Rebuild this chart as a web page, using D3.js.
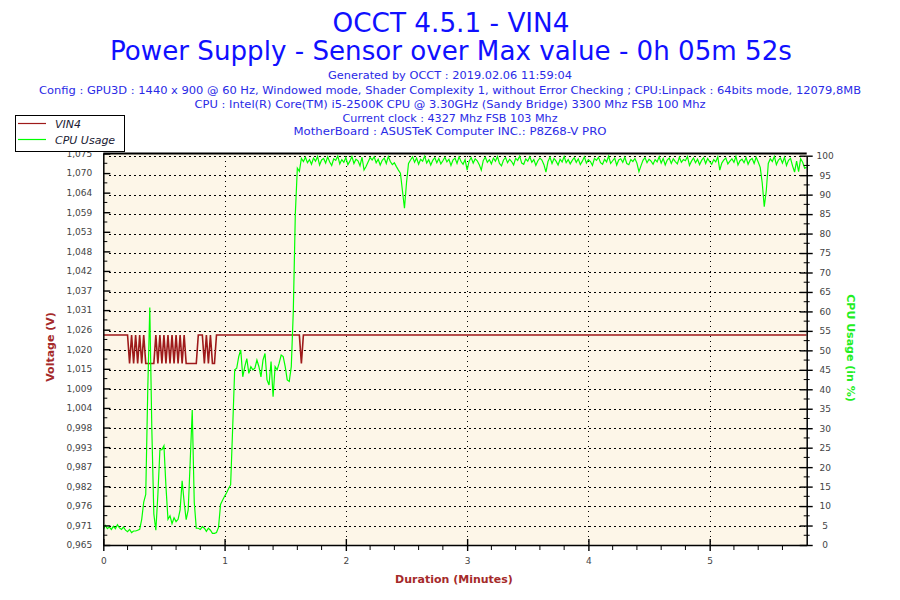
<!DOCTYPE html>
<html><head><meta charset="utf-8">
<script src="https://cdn.jsdelivr.net/npm/d3@7/dist/d3.min.js"></script>
<style>body{margin:0;background:#fff}</style>
</head><body>
<svg id="chart" width="900" height="600"></svg>
<script>
// ---------- text ----------
const titleLines = ["OCCT 4.5.1 - VIN4", "Power Supply - Sensor over Max value - 0h 05m 52s"];
const infoLines = [
  "Generated by OCCT : 2019.02.06 11:59:04",
  "Config : GPU3D : 1440 x 900 @ 60 Hz, Windowed mode, Shader Complexity 1, without Error Checking ; CPU:Linpack : 64bits mode, 12079,8MB",
  "CPU : Intel(R) Core(TM) i5-2500K CPU @ 3.30GHz (Sandy Bridge) 3300 Mhz FSB 100 Mhz",
  "Current clock : 4327 Mhz FSB 103 Mhz",
  "MotherBoard : ASUSTeK Computer INC.: P8Z68-V PRO"
];
const legendLabels = ["VIN4", "CPU Usage"];
const axisTitles = {left: "Voltage (V)", right: "CPU Usage (in %)", bottom: "Duration (Minutes)"};

// ---------- ticks ----------
const xTicks = [0, 1, 2, 3, 4, 5];
const xDomain = [0, 5.8];
const voltDomain = [0.965, 1.075];
const voltTickLabels = ["0,965","0,971","0,976","0,982","0,987","0,993","0,998","1,004","1,009","1,015",
  "1,020","1,026","1,031","1,037","1,042","1,048","1,053","1,059","1,064","1,070","1,075"];
const cpuTicks = [0,5,10,15,20,25,30,35,40,45,50,55,60,65,70,75,80,85,90,95,100];

// ---------- series (one sample per second) ----------
const sampleSeconds = 1;
const vin4 = [
1.024,1.024,1.024,1.024,1.024,1.024,1.024,1.024,1.024,1.024,
1.024,1.024,1.024,1.016,1.024,1.016,1.024,1.016,1.024,1.016,
1.024,1.016,1.016,1.016,1.016,1.016,1.024,1.016,1.024,1.016,
1.024,1.016,1.024,1.016,1.024,1.016,1.024,1.016,1.024,1.016,
1.024,1.016,1.016,1.016,1.016,1.016,1.016,1.024,1.024,1.024,
1.016,1.024,1.016,1.024,1.016,1.016,1.024,1.024,1.024,1.024,
1.024,1.024,1.024,1.024,1.024,1.024,1.024,1.024,1.024,1.024,
1.024,1.024,1.024,1.024,1.024,1.024,1.024,1.024,1.024,1.024,
1.024,1.024,1.024,1.024,1.024,1.024,1.024,1.024,1.024,1.024,
1.024,1.024,1.024,1.024,1.024,1.024,1.024,1.024,1.016,1.024,
1.024,1.024,1.024,1.024,1.024,1.024,1.024,1.024,1.024,1.024,
1.024,1.024,1.024,1.024,1.024,1.024,1.024,1.024,1.024,1.024,
1.024,1.024,1.024,1.024,1.024,1.024,1.024,1.024,1.024,1.024,
1.024,1.024,1.024,1.024,1.024,1.024,1.024,1.024,1.024,1.024,
1.024,1.024,1.024,1.024,1.024,1.024,1.024,1.024,1.024,1.024,
1.024,1.024,1.024,1.024,1.024,1.024,1.024,1.024,1.024,1.024,
1.024,1.024,1.024,1.024,1.024,1.024,1.024,1.024,1.024,1.024,
1.024,1.024,1.024,1.024,1.024,1.024,1.024,1.024,1.024,1.024,
1.024,1.024,1.024,1.024,1.024,1.024,1.024,1.024,1.024,1.024,
1.024,1.024,1.024,1.024,1.024,1.024,1.024,1.024,1.024,1.024,
1.024,1.024,1.024,1.024,1.024,1.024,1.024,1.024,1.024,1.024,
1.024,1.024,1.024,1.024,1.024,1.024,1.024,1.024,1.024,1.024,
1.024,1.024,1.024,1.024,1.024,1.024,1.024,1.024,1.024,1.024,
1.024,1.024,1.024,1.024,1.024,1.024,1.024,1.024,1.024,1.024,
1.024,1.024,1.024,1.024,1.024,1.024,1.024,1.024,1.024,1.024,
1.024,1.024,1.024,1.024,1.024,1.024,1.024,1.024,1.024,1.024,
1.024,1.024,1.024,1.024,1.024,1.024,1.024,1.024,1.024,1.024,
1.024,1.024,1.024,1.024,1.024,1.024,1.024,1.024,1.024,1.024,
1.024,1.024,1.024,1.024,1.024,1.024,1.024,1.024,1.024,1.024,
1.024,1.024,1.024,1.024,1.024,1.024,1.024,1.024,1.024,1.024,
1.024,1.024,1.024,1.024,1.024,1.024,1.024,1.024,1.024,1.024,
1.024,1.024,1.024,1.024,1.024,1.024,1.024,1.024,1.024,1.024,
1.024,1.024,1.024,1.024,1.024,1.024,1.024,1.024,1.024,1.024,
1.024,1.024,1.024,1.024,1.024,1.024,1.024,1.024,1.024,1.024,
1.024,1.024,1.024,1.024,1.024,1.024,1.024,1.024,1.024
];
const cpuUsage = [
4.0,5.0,4.2,4.6,4.0,4.8,4.2,5.2,4.4,4.0,
4.6,3.8,3.4,4.0,3.2,3.6,3.6,3.8,4.0,6.6,
11.0,13.0,40.0,61.0,30.0,8.0,3.8,12.9,24.4,24.5,
25.5,15.0,6.6,7.5,5.5,7.0,6.0,6.6,9.0,16.5,
11.0,6.5,9.0,21.5,34.7,11.0,4.3,4.3,4.0,4.7,
4.3,3.5,4.3,3.8,3.0,3.0,3.2,4.5,10.4,11.5,
12.5,13.4,14.5,15.5,30.0,45.0,45.4,48.4,50.1,43.2,
45.8,47.9,44.1,45.8,45.0,45.4,47.5,45.8,43.2,47.5,
49.2,42.4,41.1,47.1,38.1,45.8,45.0,46.7,48.8,48.4,
45.8,42.4,42.0,45.8,60.0,85.0,96.8,96.0,99.3,
98.5,99.6,98.2,99.0,97.8,99.4,98.6,99.8,97.6,98.9,
99.3,98.1,99.7,98.4,97.5,99.2,98.8,99.9,97.9,99.0,
98.3,99.5,97.7,98.6,99.8,98.0,99.1,98.7,97.4,99.6,
96.3,97.2,98.4,99.5,98.9,99.7,98.2,99.1,97.6,98.8,
99.4,98.0,99.8,98.5,97.7,98.2,
97.2,96.3,95.5,91.0,86.5,93.0,98.0,
98.9,99.7,98.3,99.4,97.8,99.1,98.6,99.9,98.1,99.0,
97.6,98.8,99.5,98.2,99.3,97.9,98.7,99.6,98.4,99.1,
97.5,98.9,99.4,98.0,99.7,98.5,97.8,99.0,96.3,98.6,
99.5,98.1,99.2,98.7,97.7,96.3,98.8,99.6,98.3,99.0,
97.9,99.4,98.6,99.8,98.0,97.4,98.9,99.5,98.2,99.1,
98.5,97.6,99.3,98.8,99.9,98.1,97.8,99.2,98.6,99.7,
98.3,99.0,97.5,98.7,99.4,98.9,97.7,95.8,98.5,99.6,
98.0,99.3,98.6,97.6,99.1,98.4,99.8,98.2,99.0,97.9,
98.8,99.5,98.3,99.2,97.7,98.6,99.7,98.1,99.0,98.5,
97.5,99.3,98.8,99.6,98.2,97.8,99.1,98.4,99.9,98.0,
98.7,99.4,97.6,98.9,99.2,98.3,99.6,98.0,97.7,99.0,
98.5,99.3,98.1,95.9,97.4,98.8,99.5,98.2,99.1,98.6,
97.8,99.0,98.4,99.7,98.1,99.3,97.6,98.9,99.4,98.0,
99.2,98.5,97.9,99.6,98.3,99.0,98.7,99.8,97.5,98.6,
99.4,98.2,99.1,97.7,98.8,99.5,98.0,99.3,98.5,97.8,
99.0,98.4,99.7,96.3,98.1,98.9,99.4,97.9,98.6,99.2,
98.3,99.8,97.6,98.7,99.1,98.2,99.5,97.8,98.9,99.3,
98.0,99.6,98.4,
97.0,93.0,86.9,91.0,98.0,
99.2,98.5,99.8,97.7,98.9,99.4,98.1,99.6,97.5,98.8,
99.3,97.4,95.8,98.6,95.9,99.2,98.3,96.8,97.0
];

// ---------- styles ----------
const C = {
  title: "#1010ff", info: "#2a2ae6", bg: "#fdf6e8", red: "#9e1a1a", green: "#00ff00",
  axisRed: "#a52a2a", axisGreen: "#22ee22", tick: "#444"
};
const plot = {left: 103.3, right: 806.7, top: 153.5, bottom: 545};

const svg = d3.select("#chart");
svg.append("rect").attr("width", 900).attr("height", 600).attr("fill", "#fff");

// titles
const titleY = [32, 60];
svg.selectAll("text.title").data(titleLines).join("text")
  .attr("class", "title")
  .attr("x", 451).attr("y", (d, i) => titleY[i])
  .attr("text-anchor", "middle")
  .attr("font-family", "DejaVu Sans, sans-serif")
  .attr("font-size", 26)
  .attr("fill", C.title)
  .attr("textLength", (d, i) => [237, 682][i])
  .attr("lengthAdjust", "spacingAndGlyphs")
  .text(d => d);

const infoY = [79, 94, 108, 122, 135];
const infoW = [244, 822, 511, 215, 313];
svg.selectAll("text.info").data(infoLines).join("text")
  .attr("class", "info")
  .attr("x", 450).attr("y", (d, i) => infoY[i])
  .attr("text-anchor", "middle")
  .attr("font-family", "DejaVu Sans, sans-serif")
  .attr("font-size", 10.5)
  .attr("fill", C.info)
  .attr("textLength", (d, i) => infoW[i])
  .attr("lengthAdjust", "spacingAndGlyphs")
  .text(d => d);

// scales
const x = d3.scaleLinear().domain(xDomain).range([plot.left, plot.right]);
const yV = d3.scaleLinear().domain(voltDomain).range([plot.bottom, plot.top]);
const yC = d3.scaleLinear().domain([0, 100]).range([plot.bottom, 155.7]);
const voltTicks = d3.range(voltTickLabels.length).map(i => voltDomain[0] + i * (voltDomain[1] - voltDomain[0]) / (voltTickLabels.length - 1));

// plot background
svg.append("rect")
  .attr("x", plot.left).attr("y", plot.top)
  .attr("width", plot.right - plot.left).attr("height", plot.bottom - plot.top)
  .attr("fill", C.bg);

// grid
const grid = svg.append("g").attr("stroke", "#000").attr("stroke-width", 1.2)
  .attr("stroke-dasharray", "1.2,3.8").attr("shape-rendering", "crispEdges");
grid.selectAll("line.h").data(cpuTicks.filter(d => d > 0)).join("line")
  .attr("x1", plot.left + 6).attr("x2", plot.right - 2)
  .attr("y1", d => Math.round(yC(d)) + 0.5).attr("y2", d => Math.round(yC(d)) + 0.5);
grid.selectAll("line.v").data(xTicks.filter(d => d > 0)).join("line")
  .attr("y1", plot.top + 2).attr("y2", plot.bottom)
  .attr("x1", d => Math.round(x(d)) + 0.5).attr("x2", d => Math.round(x(d)) + 0.5);

// clip
svg.append("clipPath").attr("id", "clip").append("rect")
  .attr("x", plot.left).attr("y", plot.top - 1)
  .attr("width", plot.right - plot.left).attr("height", plot.bottom - plot.top + 1);

const tOf = i => i * sampleSeconds / 60;
const lineV = d3.line().x((d, i) => x(tOf(i))).y(d => yV(d));
const lineC = d3.line().x((d, i) => x(tOf(i))).y(d => yC(d));

const series = svg.append("g").attr("clip-path", "url(#clip)").attr("fill", "none");
series.append("path").datum(vin4).attr("d", lineV)
  .attr("stroke", C.red).attr("stroke-width", 1.6);
series.append("path").datum(cpuUsage).attr("d", lineC)
  .attr("stroke", C.green).attr("stroke-width", 1.2);

// axes
const font = "DejaVu Sans, sans-serif";
// left
const gL = svg.append("g").attr("transform", `translate(${plot.left},0)`)
  .call(d3.axisLeft(yV).tickValues(voltTicks).tickFormat((d, i) => voltTickLabels[i]).tickSize(0).tickPadding(11));
gL.select(".domain").attr("stroke", "#000").attr("stroke-width", 1.5);
gL.selectAll("text").attr("font-family", font).attr("font-size", 9).attr("fill", C.tick);
gL.selectAll(".tick line").attr("x1", 0).attr("x2", 7).attr("stroke", "#000").attr("stroke-width", 1.4);
const voltMinor = voltTicks.slice(0, -1).map((d, i) => (d + voltTicks[i + 1]) / 2);
gL.selectAll("line.minor").data(voltMinor).join("line")
  .attr("x1", 0).attr("x2", 4).attr("y1", d => yV(d)).attr("y2", d => yV(d))
  .attr("stroke", "#000");

// right
const gR = svg.append("g").attr("transform", `translate(${plot.right},0)`)
  .call(d3.axisRight(yC).tickValues(cpuTicks).tickSize(0).tickPadding(0));
gR.select(".domain").attr("stroke", "#000").attr("stroke-width", 1.5);
gR.selectAll("text").attr("font-family", font).attr("font-size", 9).attr("fill", C.tick)
  .attr("x", 18.5).attr("text-anchor", "middle");
gR.selectAll(".tick line").attr("x1", -7).attr("x2", 6).attr("stroke", "#000").attr("stroke-width", 1.4);
const cpuMinor = cpuTicks.slice(0, -1).map(d => d + 2.5);
gR.selectAll("line.minor").data(cpuMinor).join("line")
  .attr("x1", -3).attr("x2", 3).attr("y1", d => yC(d)).attr("y2", d => yC(d))
  .attr("stroke", "#000");

// bottom
const gB = svg.append("g").attr("transform", `translate(0,${plot.bottom})`)
  .call(d3.axisBottom(x).tickValues(xTicks).tickFormat(d3.format("d")).tickSize(0).tickPadding(13));
gB.select(".domain").attr("stroke", "#000").attr("stroke-width", 1.5);
gB.selectAll("text").attr("font-family", font).attr("font-size", 9).attr("fill", C.tick);
gB.selectAll(".tick line").attr("y1", -6).attr("y2", 6).attr("stroke", "#000").attr("stroke-width", 1.4);
const xMinor = d3.range(0, 29).map(i => i * 0.2).filter(d => Math.abs(d - Math.round(d)) > 0.01);
gB.selectAll("line.minor").data(xMinor).join("line")
  .attr("y1", 0).attr("y2", 5).attr("x1", d => x(d)).attr("x2", d => x(d))
  .attr("stroke", "#000");

// top border
svg.append("line").attr("x1", plot.left).attr("x2", plot.right)
  .attr("y1", plot.top).attr("y2", plot.top).attr("stroke", "#000").attr("stroke-width", 2);

// axis titles
svg.append("text").attr("transform", "translate(54,347) rotate(-90)")
  .attr("text-anchor", "middle").attr("font-family", font).attr("font-weight", "bold")
  .attr("font-size", 11).attr("fill", C.axisRed).text(axisTitles.left);
svg.append("text").attr("transform", "translate(847,348) rotate(90)")
  .attr("text-anchor", "middle").attr("font-family", font).attr("font-weight", "bold")
  .attr("font-size", 11).attr("fill", C.axisGreen).text(axisTitles.right);
svg.append("text").attr("x", 454).attr("y", 583)
  .attr("text-anchor", "middle").attr("font-family", font).attr("font-weight", "bold")
  .attr("font-size", 11).attr("fill", C.axisRed).text(axisTitles.bottom);

// legend
const lg = svg.append("g");
lg.append("rect").attr("x", 15.5).attr("y", 115.5).attr("width", 109).attr("height", 36)
  .attr("fill", "#fff").attr("stroke", "#000");
const legendColors = [C.red, C.green];
const legendY = [123.5, 139.5];
lg.selectAll("line.item").data(legendLabels).join("line")
  .attr("x1", 18).attr("x2", 46).attr("y1", (d, i) => legendY[i]).attr("y2", (d, i) => legendY[i])
  .attr("stroke", (d, i) => legendColors[i]).attr("stroke-width", 1.2);
lg.selectAll("text.item").data(legendLabels).join("text")
  .attr("x", 55).attr("y", (d, i) => legendY[i] + 4)
  .attr("font-family", font).attr("font-style", "italic").attr("font-size", 11)
  .attr("fill", "#1a1a33").text(d => d);
</script>
</body></html>
